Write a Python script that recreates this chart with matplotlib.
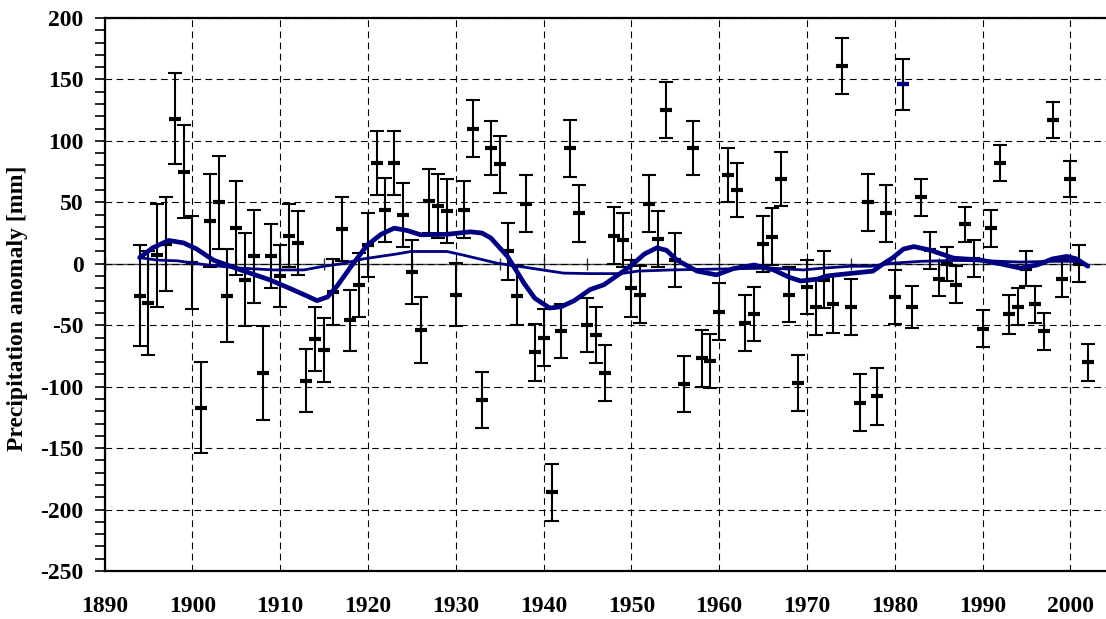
import matplotlib
matplotlib.use("Agg")
import matplotlib.pyplot as plt
from matplotlib.ticker import MultipleLocator, NullFormatter

# yearly precipitation anomaly [mm] with error bars
years = list(range(1894, 2003))
anomaly = [-26, -32, 7, 16, 118, 75, 1, -117, 35, 50,
           -26, 29, -13, 6, -89, 6, -10, 23, 17, -95,
           -61, -70, -23, 28, -46, -17, 15, 82, 44, 82,
           40, -7, -54, 51, 47, 43, -25, 44, 110, -111,
           94, 81, 10, -26, 49, -72, -60, -186, -55, 94,
           41, -50, -58, -89, 23, 19, -20, -25, 49, 20,
           125, 3, -98, 94, -77, -79, -39, 72, 60, -48,
           -41, 16, 22, 69, -25, -97, -19, -35, -13, -33,
           161, -35, -113, 50, -108, 41, -27, 146, -35, 54,
           11, -12, 0, -17, 32, 4, -53, 29, 82, -41,
           -35, -4, -33, -55, 117, -12, 69, 0, -80]
errors = [41, 42, 42, 38, 37, 38, 38, 37, 38, 38,
          38, 38, 38, 38, 38, 26, 25, 26, 26, 26,
          26, 26, 27, 26, 25, 26, 26, 26, 26, 26,
          26, 26, 27, 26, 26, 26, 26, 23, 23, 23,
          22, 23, 23, 24, 23, 23, 23, 23, 22, 23,
          23, 22, 23, 23, 23, 22, 23, 23, 23, 23,
          23, 22, 23, 22, 23, 22, 23, 22, 22, 23,
          22, 23, 23, 22, 22, 23, 22, 23, 23, 23,
          23, 23, 23, 23, 23, 23, 22, 21, 17, 15,
          15, 14, 14, 15, 14, 15, 15, 15, 15, 16,
          15, 14, 15, 15, 15, 15, 15, 15, 15]

# the one year drawn in blue
blue_year = [1981]
blue_value = [146]

# strong smoothing curve (thick)
thick_x = [1894, 1895.5, 1897.3, 1899, 1900.5, 1902.4, 1905.5, 1908.8, 1911.1, 1913,
           1914.2, 1915.4, 1916.5, 1918, 1919.9, 1921.5, 1923, 1924.5, 1926, 1929,
           1931.7, 1933, 1934, 1935.9, 1937.8, 1939, 1940.7, 1942, 1943.5, 1945.3,
           1946.9, 1948.5, 1949.9, 1951.5, 1952.9, 1954, 1955.2, 1957.5, 1959.7, 1961.6,
           1964, 1966.2, 1968, 1969.3, 1971.2, 1972.2, 1973.4, 1977.5, 1978.5, 1979.8,
           1981, 1982.2, 1984.1, 1986.7, 1989.8, 1992, 1994.3, 1996.2, 1998, 1999.6,
           2000.7, 2002]
thick_y = [5, 13, 19, 17, 12, 3, -5, -13, -20, -26,
           -30, -27, -18, -3, 15, 24, 29, 27, 23.6, 24,
           26, 25, 21, 6, -16, -28, -36, -35, -30, -21,
           -17, -9, -2, 8, 13, 11, 3, -6, -9, -4,
           -1, -5, -11, -14, -12.5, -10, -9, -6, -1, 5,
           12, 14, 11, 4.6, 3, 0, -3.5, -1, 4, 6,
           4, -2]

# long-term smoothing curve (thin)
thin_x = [1894, 1896, 1898.3, 1901.7, 1905.4, 1909.3, 1912.7, 1915, 1917, 1919.5,
          1923.3, 1924.9, 1929, 1930.9, 1934.7, 1938.5, 1942.3, 1945.3, 1948.8, 1950.7,
          1954.5, 1959.7, 1965.9, 1969.6, 1971.9, 1975, 1977.3, 1979.8, 1983, 1986.7,
          1990.5, 1994.3, 1998, 2001]
thin_y = [5, 3, 2.4, -1, -3.5, -5, -5, -2, 0, 4,
          8, 10, 10, 7, 0.5, -3.5, -7.6, -8, -8, -6,
          -5, -4.3, -3.5, -5, -3.5, -2, -2, 0.5, 2, 2.7,
          2.4, 1.4, 2, 2]

navy = "#000080"
plt.rcParams['font.family'] = ['Liberation Serif', 'DejaVu Serif']
plt.rcParams['font.weight'] = 'bold'
plt.rcParams['axes.unicode_minus'] = False

fig = plt.figure(figsize=(11.06, 6.19), dpi=100)
ax = fig.add_axes([104.5 / 1106, 48 / 619, 1009.7 / 1106, 553 / 619])

ax.errorbar(years, anomaly, yerr=errors, fmt='none', ecolor='black',
            elinewidth=1.5, capsize=5, capthick=1.5, zorder=3)
ax.plot(years, anomaly, linestyle='none', marker='_', ms=9, mew=3,
        color='black', zorder=4)
ax.plot(blue_year, blue_value, linestyle='none', marker='_', ms=9, mew=3,
        color=navy, zorder=5)

ax.plot(thin_x, thin_y, color=navy, lw=2.0, zorder=6, solid_capstyle='round')
ax.plot(thick_x, thick_y, color=navy, lw=3.4, zorder=7, solid_capstyle='round',
        solid_joinstyle='round')

ax.set_xlim(1890, 2005)
ax.set_ylim(-250, 200)
ax.set_xticks(range(1890, 2001, 10))
ax.yaxis.set_major_locator(MultipleLocator(50))
ax.yaxis.set_minor_locator(MultipleLocator(10))

ax.grid(True, which='major', linestyle=(0, (6, 4)), color='black', lw=0.8)
ax.set_axisbelow(True)

for side in ['left', 'bottom', 'top']:
    ax.spines[side].set_linewidth(1.6)
ax.spines['right'].set_visible(False)

ax.tick_params(axis='y', which='both', direction='out', length=7, width=1.2,
               labelsize=17, pad=8)
ax.tick_params(axis='x', length=0, labelsize=17, pad=18)

# axis line through zero with ticks every 5 years
zero = ax.secondary_xaxis(250 / 450)
zero.set_xticks(range(1890, 2006, 5))
zero.xaxis.set_major_formatter(NullFormatter())
zero.tick_params(direction='inout', length=8, width=1, color='#333333',
                 labelbottom=False, labeltop=False)
for s in zero.spines.values():
    s.set_linewidth(1.0)
    s.set_color('#444444')

ax.set_ylabel('Precipitation anomaly [mm]', fontsize=17, fontweight='bold')
ax.yaxis.set_label_coords(-0.0755, 0.475)

fig.savefig('out.png', dpi=100)
